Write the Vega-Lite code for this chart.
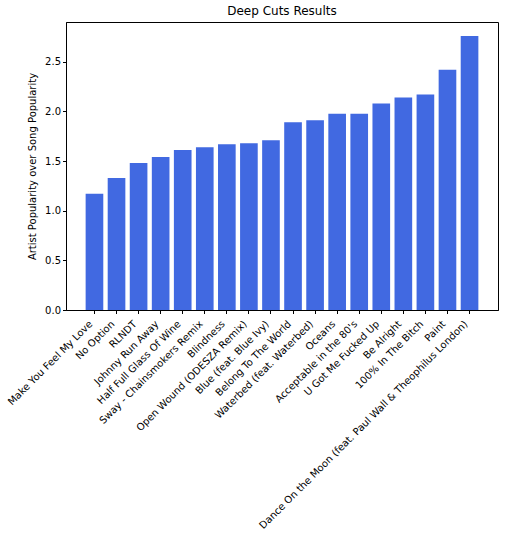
{
  "$schema": "https://vega.github.io/schema/vega-lite/v6.json",
  "autosize": "none",
  "padding": {"left": 66, "top": 22, "right": 7, "bottom": 226},
  "width": 432,
  "height": 288,
  "background": "white",
  "title": {"text": "Deep Cuts Results", "font": "DejaVu Sans", "fontSize": 12, "fontWeight": "normal", "color": "black", "offset": 4},
  "config": {
    "view": {"stroke": "black", "strokeWidth": 1},
    "axis": {"labelFont": "DejaVu Sans", "titleFont": "DejaVu Sans", "labelFontSize": 10, "titleFontSize": 10, "titleFontWeight": "normal", "labelColor": "black", "titleColor": "black", "tickColor": "black", "domainColor": "black", "grid": false, "tickSize": 3.5}
  },
  "data": {"values": [
    {"song": "Make You Feel My Love", "value": 1.17},
    {"song": "No Option", "value": 1.33},
    {"song": "RLNDT", "value": 1.48},
    {"song": "Johnny Run Away", "value": 1.54},
    {"song": "Half Full Glass Of Wine", "value": 1.61},
    {"song": "Sway - Chainsmokers Remix", "value": 1.64},
    {"song": "Blindness", "value": 1.67},
    {"song": "Open Wound (ODESZA Remix)", "value": 1.68},
    {"song": "Blue (feat. Blue Ivy)", "value": 1.71},
    {"song": "Belong To The World", "value": 1.89},
    {"song": "Waterbed (feat. Waterbed)", "value": 1.91},
    {"song": "Oceans", "value": 1.975},
    {"song": "Acceptable in the 80's", "value": 1.975},
    {"song": "U Got Me Fucked Up", "value": 2.08},
    {"song": "Be Alright", "value": 2.14},
    {"song": "100% In The Bitch", "value": 2.17},
    {"song": "Paint", "value": 2.42},
    {"song": "Dance On the Moon (feat. Paul Wall & Theophilus London)", "value": 2.76}
  ]},
  "mark": {"type": "bar", "color": "#4169E1"},
  "encoding": {
    "x": {"field": "song", "type": "nominal", "sort": null,
      "scale": {"paddingInner": 0.2, "paddingOuter": 0.89},
      "axis": {"title": null, "labelAngle": -45, "labelAlign": "right", "labelBaseline": "top", "labelPadding": 5, "labelOffset": -7, "labelLimit": 400}},
    "y": {"field": "value", "type": "quantitative",
      "scale": {"domain": [0, 2.9], "nice": false, "zero": true},
      "axis": {"title": "Artist Popularity over Song Popularity", "values": [0, 0.5, 1, 1.5, 2, 2.5], "format": ".1f", "titlePadding": 7}}
  }
}
